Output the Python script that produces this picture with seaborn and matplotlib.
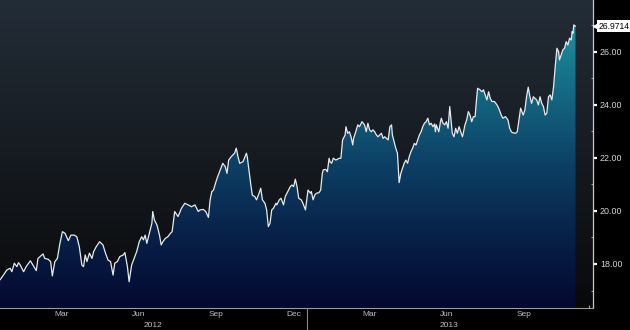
import numpy as np
import pandas as pd
import matplotlib
matplotlib.use("Agg")
import matplotlib.pyplot as plt
import matplotlib.dates as mdates
import matplotlib.transforms as mtransforms
from matplotlib.colors import LinearSegmentedColormap
import seaborn as sns

# ---------------- data ----------------
start_date = "2012-01-03"
day_offsets = [
    0, 4, 8, 12, 14, 17, 20, 22, 24, 28,
    31, 36, 39, 43, 45, 51, 53, 57, 60, 62,
    65, 68, 71, 74, 77, 81, 84, 88, 91, 94,
    97, 99, 101, 103, 106, 109, 111, 114, 118, 122,
    125, 128, 131, 134, 136, 139, 142, 146, 148, 151,
    153, 156, 159, 162, 165, 168, 170, 172, 174, 177,
    180, 181, 183, 186, 189, 191, 193, 196, 199, 202,
    204, 207, 211, 215, 219, 223, 227, 231, 235,
    237, 241, 244, 247, 249, 251, 253, 256, 258, 261,
    264, 267, 269, 271, 274, 278, 280, 282, 284, 288,
    292, 293, 295, 297, 299, 302, 304, 307, 309, 311,
    314, 316, 318, 320, 322, 324, 327, 328, 331, 333,
    336, 338, 341, 344, 346, 348, 350, 352, 354, 357,
    359, 362, 364, 365, 368, 369, 371, 373, 375, 378,
    380, 382, 383, 386, 388, 390, 391, 393, 395, 398,
    402, 404, 406, 409, 410, 412, 414, 416, 418, 419,
    421, 424, 426, 429, 432, 434, 436, 438, 440, 442,
    444, 446, 448, 450, 452, 454, 456, 458, 460, 462,
    464, 465, 467, 469, 471,
    473, 475, 477, 479, 481, 483, 485, 487, 489, 491,
    493, 495, 497, 499, 501, 503, 505, 507, 509, 511,
    513, 515, 516, 517, 520, 522, 523, 525, 527, 529,
    531, 533, 535, 536, 538, 540, 542, 544, 546, 548,
    549, 551, 553, 555, 557, 559, 561, 563, 565, 566,
    569, 571, 573, 575, 577, 579, 581, 583, 586, 589,
    591, 594, 596, 599, 602, 604, 606, 607, 611, 613,
    615, 617, 620, 622, 624, 626, 628, 630, 632, 634,
    636, 638, 640, 642, 644, 646, 648, 650, 652, 654,
    656, 658, 660, 662, 663, 665, 667, 669, 671, 673,
    675, 677, 678, 679, 680, 682,
]
prices = [
    17.40, 17.58, 17.77, 17.84, 17.71, 18.03, 17.90, 18.05, 17.96, 17.71,
    17.90, 18.12, 17.96, 17.75, 18.21, 18.38, 18.21, 18.18, 18.09, 17.55,
    18.09, 18.21, 18.78, 19.22, 19.16, 18.88, 19.09, 19.09, 19.03, 18.65,
    17.96, 17.90, 18.34, 18.09, 18.41, 18.21, 18.47, 18.65, 18.84, 18.72,
    18.41, 18.15, 18.09, 17.58, 18.03, 18.09, 18.28, 18.34, 18.43, 17.90,
    17.33, 17.96, 18.21, 18.47, 18.84, 19.03, 18.91, 19.09, 18.78, 19.16,
    19.54, 19.98, 19.66, 19.47, 19.09, 18.72, 18.84, 18.97, 19.03, 19.16,
    19.22, 19.98, 19.79, 20.10, 20.29, 20.23, 20.16, 20.23, 19.98,
    20.04, 20.06, 19.97, 19.76, 20.42, 20.73, 20.79, 21.11, 21.30, 21.55,
    21.80, 21.67, 21.42, 21.92, 22.05, 22.18, 22.37, 22.05, 21.80, 21.86,
    22.18, 22.05, 21.55, 21.05, 20.60, 20.54, 20.42, 20.67, 20.86, 20.42,
    20.29, 20.04, 19.41, 19.54, 20.04, 20.10, 20.29, 20.23, 20.42, 20.48,
    20.23, 20.54, 20.73, 20.92, 20.98, 20.92, 21.20, 20.92, 20.48, 20.42,
    20.29, 20.04, 20.54, 20.79, 20.67, 20.73, 20.42, 20.60, 20.67, 20.69,
    20.79, 21.42, 21.55, 21.57, 21.48, 21.99, 21.86, 21.80, 21.99, 21.92,
    21.99, 21.99, 22.68, 22.87, 23.18, 22.93, 22.99, 22.80, 22.49, 22.74,
    22.93, 23.25, 23.18, 23.37, 23.25, 22.99, 23.31, 23.06, 22.99, 23.06,
    22.99, 22.87, 22.80, 22.87, 22.93, 22.74, 22.80, 22.74, 22.68, 23.18,
    23.25, 22.87, 22.62, 22.37, 22.18,
    21.07, 21.42, 21.61, 21.80, 21.92, 21.80, 22.05, 22.24, 22.37, 22.55,
    22.49, 22.68, 22.87, 22.99, 23.18, 23.31, 23.37, 23.50, 23.25, 23.31,
    23.18, 23.28, 22.99, 23.25, 22.99, 23.37, 23.50, 23.31, 23.25, 23.37,
    23.12, 23.94, 23.25, 22.93, 22.80, 23.12, 22.93, 23.18, 22.99, 22.80,
    22.93, 23.25, 23.43, 23.75, 23.62, 23.37, 23.56, 23.56, 24.31, 24.63,
    24.57, 24.50, 24.57, 24.38, 24.19, 24.50, 24.25, 24.13, 24.13, 24.00,
    23.88, 23.62, 23.50, 23.56, 23.43, 23.12, 22.99, 22.96, 22.93, 22.99,
    23.43, 23.88, 23.62, 23.81, 24.31, 24.67, 24.31, 24.06, 24.31, 24.25,
    24.19, 24.00, 24.31, 24.06, 23.94, 23.62, 23.69, 24.31, 24.38, 24.19,
    24.69, 25.45, 26.14, 26.01, 25.70, 25.89, 26.08, 26.14, 26.39, 26.26,
    26.52, 26.45, 26.77, 26.71, 27.02, 26.9714,
]
last_value_label = "26.9714"
y_ticks = [18, 20, 22, 24, 26]
month_labels = ["Mar", "Jun", "Sep", "Dec", "Mar", "Jun", "Sep"]
month_label_dates = ["2012-03-16", "2012-06-15", "2012-09-15", "2012-12-16",
                     "2013-03-16", "2013-06-15", "2013-09-15"]
year_labels = ["2012", "2013"]
year_label_dates = ["2012-07-02", "2013-06-18"]
year_break = "2013-01-01"

# ---------------- styling ----------------
sns.set_theme(style="dark")
plt.rcParams["font.family"] = ["Liberation Sans", "DejaVu Sans"]

dates = pd.Timestamp(start_date) + pd.to_timedelta(day_offsets, unit="D")
df = pd.DataFrame({"date": dates, "price": prices})

fig = plt.figure(figsize=(6.3, 3.3), dpi=100, facecolor="black")
ax = fig.add_axes([0, 22 / 330, 593 / 630, 308 / 330])

ymin, ymax = 16.34, 27.96
xmin = pd.Timestamp("2012-01-03")
xmax = pd.Timestamp("2013-12-05 18:00")
x0n, x1n = mdates.date2num(xmin), mdates.date2num(xmax)

# background gradient (axes area)
bg_cmap = LinearSegmentedColormap.from_list(
    "bg", ["#08090b", "#121519", "#1a2129", "#232d37"])
ax.imshow(np.linspace(0, 1, 256).reshape(-1, 1), extent=[0, 1, 0, 1],
          transform=ax.transAxes, origin="lower", aspect="auto",
          cmap=bg_cmap, zorder=0)

# area fill with vertical gradient
poly = ax.fill_between(mdates.date2num(df["date"]), df["price"], ymin,
                       facecolor="none", edgecolor="none", lw=0, zorder=1)
fill_cmap = LinearSegmentedColormap.from_list(
    "fill", [(0.0, "#040830"), (0.25, "#082148"), (0.5, "#0d4066"),
             (0.75, "#146a84"), (1.0, "#1e95a2")])
img = ax.imshow(np.linspace(0, 1, 256).reshape(-1, 1),
                extent=[x0n, x1n, ymin, 27.3], origin="lower",
                aspect="auto", cmap=fill_cmap, zorder=1)
img.set_clip_path(poly.get_paths()[0], transform=ax.transData)

sns.lineplot(x=mdates.date2num(df["date"]), y=df["price"], color="#e4ecf0",
             lw=0.9, ax=ax, zorder=3)

ax.set_xlim(x0n, x1n)
ax.set_ylim(ymin, ymax)
ax.set_xlabel("")
ax.set_ylabel("")
ax.grid(False)
ax.set_facecolor("#101418")

for s in ["top", "left"]:
    ax.spines[s].set_visible(False)
ax.spines["right"].set_color("#c8c8c8")
ax.spines["right"].set_linewidth(0.9)
ax.spines["bottom"].set_color("#9a9a9a")
ax.spines["bottom"].set_linewidth(0.8)

# y axis on right
ax.yaxis.tick_right()
ax.set_yticks(y_ticks)
ax.set_yticklabels([f"{v:.2f}" for v in y_ticks])
ax.set_yticks([17, 19, 21, 23, 25, 27], minor=True)
ax.tick_params(axis="y", which="major", direction="out", length=3, width=1.6,
               color="white", labelcolor="#d4d4d4", labelsize=6.4, pad=2)
ax.tick_params(axis="y", which="minor", direction="in", length=1.5,
               width=0.8, color="#9a9a9a", left=False, right=True)

# x axis: month boundary ticks, no default labels
ax.xaxis.set_major_locator(mdates.MonthLocator())
ax.xaxis.set_major_formatter(plt.NullFormatter())
ax.tick_params(axis="x", which="major", direction="in", length=2.5,
               width=0.8, color="#a8a8a8", bottom=True)

trans = mtransforms.blended_transform_factory(ax.transData, ax.transAxes)
for lab, d in zip(month_labels, month_label_dates):
    ax.annotate(lab, xy=(mdates.date2num(pd.Timestamp(d)), 0), xycoords=trans,
                xytext=(0, -7), textcoords="offset pixels",
                ha="center", va="center", fontsize=6, color="#bdbdbd",
                annotation_clip=False)
for lab, d in zip(year_labels, year_label_dates):
    ax.annotate(lab, xy=(mdates.date2num(pd.Timestamp(d)), 0), xycoords=trans,
                xytext=(0, -17.5), textcoords="offset pixels",
                ha="center", va="center", fontsize=6, color="#bdbdbd",
                annotation_clip=False)
yb = mdates.date2num(pd.Timestamp(year_break))
ax.plot([yb, yb], [0, -22 / 308], transform=trans,
        color="#8a8a8a", lw=0.8, clip_on=False, zorder=5)

# last value tag
last_val = prices[-1]
tag_trans = mtransforms.blended_transform_factory(ax.transAxes, ax.transData)
ax.plot([1.0045], [last_val], marker="<", markersize=4.5, color="white",
        transform=tag_trans, clip_on=False, zorder=6)
ax.text(1.009, last_val, last_value_label, transform=tag_trans,
        ha="left", va="center", fontsize=6.2, color="black",
        bbox=dict(boxstyle="square,pad=0.18", fc="white", ec="none"),
        clip_on=False, zorder=6)

fig.savefig("out.png", dpi=100, facecolor="black")
